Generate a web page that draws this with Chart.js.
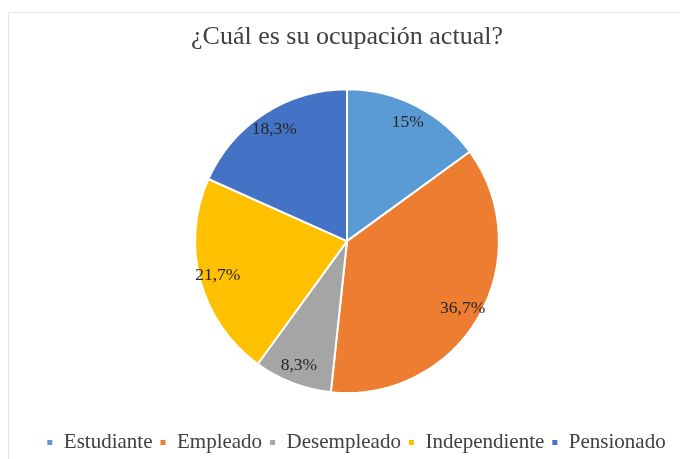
<!DOCTYPE html>
<html lang="es">
<head>
<meta charset="utf-8">
<title>¿Cuál es su ocupación actual?</title>
<script src="https://cdn.jsdelivr.net/npm/chart.js@4.4.1/dist/chart.umd.min.js"></script>
<style>
  html, body { margin: 0; padding: 0; background: #ffffff; }
  #wrap { position: relative; width: 680px; height: 459px; }
</style>
</head>
<body>
<div id="wrap"><canvas id="ocupacionChart" width="680" height="459"></canvas></div>
<script>
const chartTitle = "¿Cuál es su ocupación actual?";
const categories = ["Estudiante", "Empleado", "Desempleado", "Independiente", "Pensionado"];
const percentages = [15, 36.7, 8.3, 21.7, 18.3];
const sliceColors = ["#5b9bd5", "#ed7d31", "#a5a5a5", "#ffc000", "#4472c4"];

const serif = "'Liberation Serif', 'Times New Roman', serif";
const labelFormatter = new Intl.NumberFormat("es-ES", { maximumFractionDigits: 1 });

// faint frame like the exported spreadsheet chart
const framePlugin = {
  id: "frame",
  beforeDraw(chart) {
    const ctx = chart.ctx;
    ctx.save();
    ctx.strokeStyle = "#e6e6e6";
    ctx.lineWidth = 1;
    ctx.beginPath();
    ctx.moveTo(8.5, chart.height);
    ctx.lineTo(8.5, 12.5);
    ctx.lineTo(chart.width, 12.5);
    ctx.stroke();
    ctx.restore();
  },
};

// push the legend down a bit, the original keeps a gap under the pie
const legendGap = {
  id: "legendGap",
  afterLayout(chart) {
    const legend = chart.legend;
    legend.top += 31;
    legend.bottom += 31;
    legend.left += 9;
    legend.right += 9;
  },
};

// percentage labels inside each slice, near the outer edge
const sliceLabels = {
  id: "sliceLabels",
  afterDatasetsDraw(chart) {
    const ctx = chart.ctx;
    const meta = chart.getDatasetMeta(0);
    ctx.save();
    ctx.font = `17.5px ${serif}`;
    ctx.fillStyle = "#262626";
    ctx.textAlign = "center";
    ctx.textBaseline = "middle";
    meta.data.forEach((arc, i) => {
      const { x, y, startAngle, endAngle, outerRadius } = arc.getProps(
        ["x", "y", "startAngle", "endAngle", "outerRadius"], true);
      const mid = (startAngle + endAngle) / 2;
      const r = outerRadius * 0.88;
      const text = `${labelFormatter.format(percentages[i])}%`;
      ctx.fillText(text, x + Math.cos(mid) * r, y + Math.sin(mid) * r);
    });
    ctx.restore();
  },
};

const chart = new Chart(document.getElementById("ocupacionChart"), {
  type: "pie",
  data: {
    labels: categories,
    datasets: [
      {
        data: percentages,
        backgroundColor: sliceColors,
        borderColor: "#ffffff",
        borderWidth: 2,
      },
    ],
  },
  options: {
    responsive: false,
    animation: false,
    layout: { padding: { top: 12, bottom: 27, left: 14, right: 0 } },
    plugins: {
      title: {
        display: true,
        text: chartTitle,
        color: "#404040",
        font: { family: serif, size: 26, weight: "normal" },
        padding: { top: 10, bottom: 35 },
      },
      legend: {
        position: "bottom",
        labels: {
          color: "#404040",
          font: { family: serif, size: 21 },
          boxWidth: 7,
          boxHeight: 7,
          padding: 7,
        },
      },
      tooltip: { enabled: false },
    },
  },
  plugins: [framePlugin, legendGap, sliceLabels],
});
</script>
</body>
</html>
